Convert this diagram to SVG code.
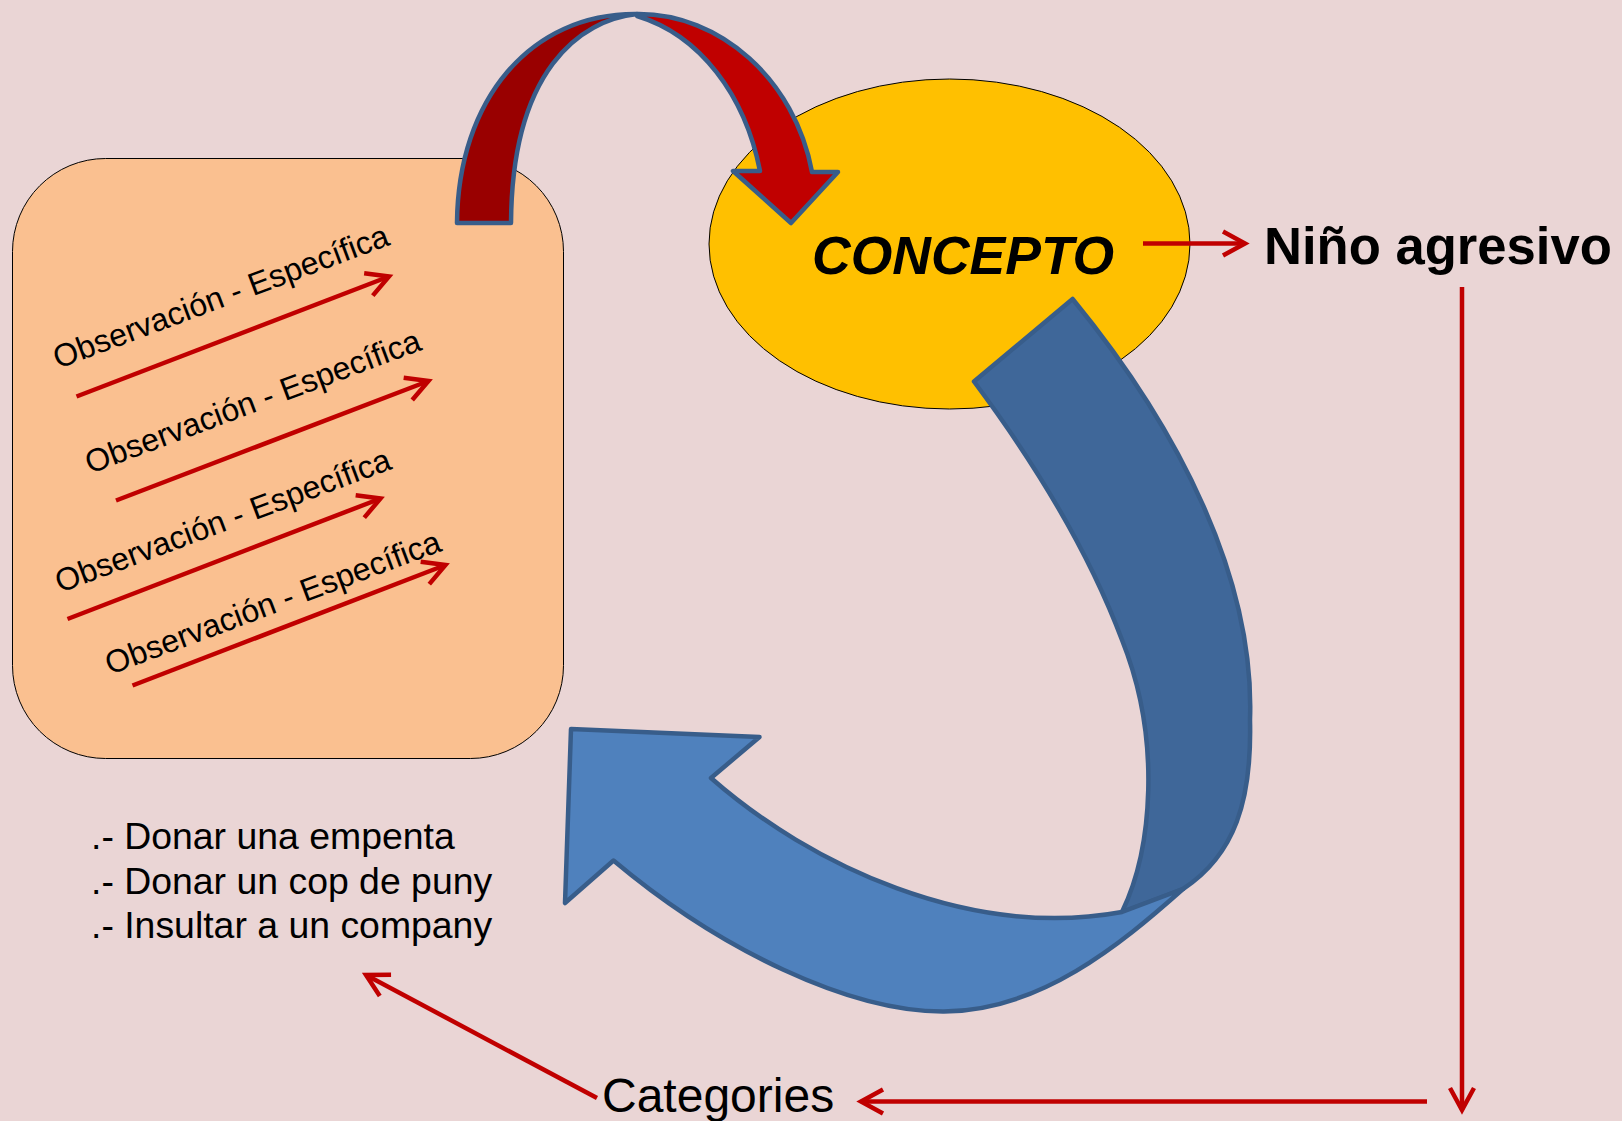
<svg xmlns="http://www.w3.org/2000/svg" width="1622" height="1121" viewBox="0 0 1622 1121">
<style>
.rl{fill:none;stroke:#C00000;stroke-width:4.5}
.obs{font-family:"Liberation Sans",Arial,sans-serif;font-size:32px;fill:#000}
.lst{font-family:"Liberation Sans",Arial,sans-serif;font-size:37.4px;fill:#000}
.blk{stroke:#385D8A;stroke-width:4.5;stroke-linejoin:round}
</style>
<defs>
<marker id="ah" markerUnits="userSpaceOnUse" markerWidth="40" markerHeight="40" viewBox="-30 -20 40 40" refX="0" refY="0" orient="auto">
<path d="M-22,-12 L0,0 L-22,12" fill="none" stroke="#C00000" stroke-width="4.5"/>
</marker>
</defs>
<rect width="1622" height="1121" fill="#EAD5D5"/>

<g id="observaciones">
<rect x="12.5" y="158.5" width="551" height="600" rx="93" ry="93" fill="#FAC090" stroke="#000" stroke-width="1"/>
<g id="obs1">
<text class="obs" transform="translate(58,369) rotate(-20.5)">Observación - Específica</text>
<line class="rl" x1="76.5" y1="396.5" x2="389" y2="276.5" marker-end="url(#ah)"/>
</g>
<g id="obs2">
<text class="obs" transform="translate(90,474) rotate(-20.5)">Observación - Específica</text>
<line class="rl" x1="116" y1="500.5" x2="428.5" y2="381" marker-end="url(#ah)"/>
</g>
<g id="obs3">
<text class="obs" transform="translate(60,593) rotate(-20.5)">Observación - Específica</text>
<line class="rl" x1="67.5" y1="619" x2="380.5" y2="498.5" marker-end="url(#ah)"/>
</g>
<g id="obs4">
<text class="obs" transform="translate(110,675) rotate(-20.5)">Observación - Específica</text>
<line class="rl" x1="132.5" y1="685.5" x2="445.5" y2="565" marker-end="url(#ah)"/>
</g>
</g>

<g id="concepto">
<ellipse cx="949.5" cy="244" rx="240.5" ry="165" fill="#FFC000" stroke="#000" stroke-width="1"/>
<text x="812" y="274" font-family="'Liberation Sans',Arial,sans-serif" font-size="53.5" font-weight="bold" font-style="italic" fill="#000">CONCEPTO</text>
</g>

<g id="red-arrow">
<path class="blk" fill="#990000" d="M457,223 C458,100 530,13 637,14 C580,20 512,70 511,223 Z"/>
<path class="blk" fill="#C00000" d="M637,14 C720,13 795,80 812,172 L838,172 L791,223 L733,171 L760,171 C745,95 700,35 637,16 Z"/>
</g>

<g id="blue-arrow">
<path class="blk" fill="#3F6799" d="M974,381.5 L1072.6,299 C1180,430 1255,580 1250,720 C1252,800 1235,855 1183,889 L1122,912 C1152,850 1162,740 1122,640 C1092,560 1040,470 974,381.5 Z"/>
<path class="blk" fill="#4F81BD" d="M1183,889 C1120,945 1040,1011 944,1011.5 C850,1012 720,950 613.5,860.5 L565,903 L571,729 L759.5,737 L711,778 C810,865 970,940 1122,912 Z"/>
</g>

<g id="nino">
<text x="1264" y="264" font-family="'Liberation Sans',Arial,sans-serif" font-size="52.6" font-weight="bold" fill="#000">Niño agresivo</text>
</g>

<g id="lista">
<text class="lst" x="91" y="849">.- Donar una empenta</text>
<text class="lst" x="91" y="894">.- Donar un cop de puny</text>
<text class="lst" x="91" y="938">.- Insultar a un company</text>
</g>

<g id="categories">
<text x="602" y="1112" font-family="'Liberation Sans',Arial,sans-serif" font-size="48" fill="#000">Categories</text>
</g>

<g id="connectors">
<line class="rl" x1="1143" y1="243.5" x2="1245" y2="243.5" marker-end="url(#ah)"/>
<line class="rl" x1="1462" y1="287" x2="1462" y2="1110" marker-end="url(#ah)"/>
<line class="rl" x1="1427" y1="1101.5" x2="861" y2="1101.5" marker-end="url(#ah)"/>
<line class="rl" x1="597" y1="1098" x2="366" y2="975" marker-end="url(#ah)"/>
</g>
</svg>
